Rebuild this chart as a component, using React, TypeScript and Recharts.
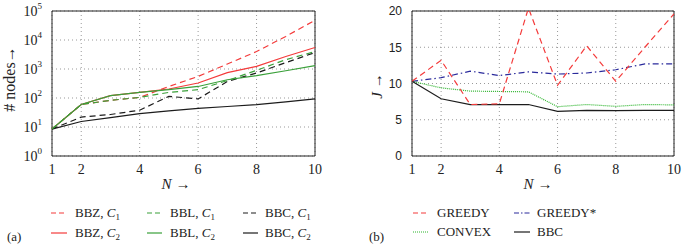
import React from 'react';
import { LineChart, Line, XAxis, YAxis, CartesianGrid, ReferenceArea } from 'recharts';

// N = number of items
const nValues = [1, 2, 3, 4, 5, 6, 7, 8, 9, 10];
const xTicks = [1, 2, 4, 6, 8, 10];

// (a) # nodes, log scale
const bbzC1 = [8.5, 60, 83, 105, 250, 555, 1480, 4000, 13300, 48000];
const bblC1 = [8.5, 60, 83, 105, 156, 194, 400, 900, 2100, 4000];
const bbcC1 = [8.5, 22, 27, 38, 114, 93, 370, 730, 1660, 3700];
const bbzC2 = [8.5, 60, 120, 156, 204, 330, 750, 1230, 2700, 5500];
const bblC2 = [8.5, 60, 120, 156, 194, 250, 427, 590, 870, 1300];
const bbcC2 = [8.5, 15.5, 21, 29, 36, 44, 51, 59, 73, 93];
const logTicks = [1, 10, 100, 1000, 10000, 100000];

// (b) cost J
const greedy = [10.3, 13.2, 7.1, 7.2, 20.4, 9.75, 15.2, 10.3, 15.0, 19.6];
const greedyStar = [10.3, 10.8, 11.7, 11.1, 11.6, 11.3, 11.45, 11.9, 12.7, 12.7];
const convex = [10.3, 9.4, 8.95, 8.9, 8.85, 6.8, 7.1, 6.85, 7.1, 7.05];
const bbc = [10.3, 7.9, 7.1, 7.1, 7.1, 6.15, 6.3, 6.25, 6.3, 6.3];
const jTicks = [0, 5, 10, 15, 20];

const leftRows = nValues.map((n, i) => ({
  n,
  bbzC1: bbzC1[i],
  bblC1: bblC1[i],
  bbcC1: bbcC1[i],
  bbzC2: bbzC2[i],
  bblC2: bblC2[i],
  bbcC2: bbcC2[i],
}));

const rightRows = nValues.map((n, i) => ({
  n,
  greedy: greedy[i],
  greedyStar: greedyStar[i],
  convex: convex[i],
  bbc: bbc[i],
}));

const RED = '#f43b3b';
const GREEN = '#3aa03a';
const DOTGREEN = '#2fb52f';
const BLUE = '#2b2b9c';
const BLACK = '#1c1c1c';
const SERIF = "'Liberation Serif', 'Times New Roman', serif";
const SANS = "'Liberation Sans', Arial, sans-serif";

const PowTick = ({ x, y, payload }: any) => {
  const exp = Math.round(Math.log10(payload.value));
  return (
    <text x={x} y={y} dy={5} textAnchor="end" style={{ fontFamily: SERIF, fontSize: 14 }} fill="#222">
      10<tspan dy={-7} style={{ fontSize: 9 }}>{exp}</tspan>
    </text>
  );
};

const Sub = ({ c, s }: { c: string; s: string }) => (
  <>
    <tspan fontStyle="italic">{c}</tspan>
    <tspan dy={3} style={{ fontSize: 9 }}>{s}</tspan>
  </>
);

const grid = <CartesianGrid stroke="#999" strokeDasharray="1 3" />;

const App = () => {
  return (
    <div style={{ position: 'absolute', left: 0, top: 0, width: 689, height: 244, background: '#fff' }}>
      <div style={{ position: 'absolute', left: 0, top: 0 }}>
        <LineChart width={345} height={190} data={leftRows} margin={{ top: 11, right: 30, left: 12, bottom: 14 }}>
          {grid}
          <XAxis dataKey="n" type="number" domain={[1, 10]} ticks={xTicks} height={20}
            tick={{ style: { fontFamily: SERIF, fontSize: 14 }, fill: '#222' }} tickLine={false} axisLine={false} tickMargin={2} />
          <YAxis type="number" scale="log" domain={[1, 100000]} ticks={logTicks} width={40} allowDataOverflow
            tick={<PowTick />} tickLine={false} axisLine={false} tickMargin={4} />
          <ReferenceArea x1={1} x2={10} y1={1} y2={100000} fill="none" stroke="#222" strokeWidth={1} />
          <Line dataKey="bbzC2" stroke={RED} strokeWidth={1.2} dot={false} isAnimationActive={false} />
          <Line dataKey="bbzC1" stroke={RED} strokeWidth={1.2} strokeDasharray="6 4" dot={false} isAnimationActive={false} />
          <Line dataKey="bbcC1" stroke={BLACK} strokeWidth={1.2} strokeDasharray="6 4" dot={false} isAnimationActive={false} />
          <Line dataKey="bblC1" stroke={GREEN} strokeWidth={1.2} strokeDasharray="6 4" dot={false} isAnimationActive={false} />
          <Line dataKey="bbcC2" stroke={BLACK} strokeWidth={1.2} dot={false} isAnimationActive={false} />
          <Line dataKey="bblC2" stroke={GREEN} strokeWidth={1.2} dot={false} isAnimationActive={false} />
        </LineChart>
      </div>
      <div style={{ position: 'absolute', left: 345, top: 0 }}>
        <LineChart width={344} height={190} data={rightRows} margin={{ top: 11, right: 15, left: 27, bottom: 14 }}>
          {grid}
          <XAxis dataKey="n" type="number" domain={[1, 10]} ticks={xTicks} height={20}
            tick={{ style: { fontFamily: SERIF, fontSize: 14 }, fill: '#222' }} tickLine={false} axisLine={false} tickMargin={2} />
          <YAxis type="number" domain={[0, 20]} ticks={jTicks} width={40} allowDataOverflow
            tick={{ style: { fontFamily: SANS, fontSize: 12 }, fill: '#222' }} tickLine={false} axisLine={false} tickMargin={4} />
          <ReferenceArea x1={1} x2={10} y1={0} y2={20} fill="none" stroke="#222" strokeWidth={1} />
          <Line dataKey="greedyStar" stroke={BLUE} strokeWidth={1.2} strokeDasharray="6 3 1.5 3" dot={false} isAnimationActive={false} />
          <Line dataKey="convex" stroke={DOTGREEN} strokeWidth={1.2} strokeDasharray="1 1" dot={false} isAnimationActive={false} />
          <Line dataKey="bbc" stroke={BLACK} strokeWidth={1.2} dot={false} isAnimationActive={false} />
          <Line dataKey="greedy" stroke={RED} strokeWidth={1.2} strokeDasharray="6 4" dot={false} isAnimationActive={false} />
        </LineChart>
      </div>
      <svg width={689} height={244} style={{ position: 'absolute', left: 0, top: 0, pointerEvents: 'none', fontFamily: SERIF, fontSize: 13 }}
        fill="#222">
        {/* axis labels */}
        <text x={176} y={189} textAnchor="middle" style={{ fontSize: 15 }}><tspan fontStyle="italic">N</tspan> →</text>
        <text x={538} y={189} textAnchor="middle" style={{ fontSize: 15 }}><tspan fontStyle="italic">N</tspan> →</text>
        <text transform="translate(15,79) rotate(-90)" textAnchor="middle" style={{ fontSize: 16 }}># nodes→</text>
        <text transform="translate(382,86) rotate(-90)" textAnchor="middle" style={{ fontSize: 15 }}><tspan fontStyle="italic">J</tspan> →</text>

        {/* legend (a) */}
        <line x1={51} x2={67} y1={213} y2={213} stroke={RED} strokeWidth={1.2} strokeDasharray="5 3" />
        <text x={75} y={217}>BBZ, <Sub c="C" s="1" /></text>
        <line x1={147} x2={162} y1={213} y2={213} stroke={GREEN} strokeWidth={1.2} strokeDasharray="5 3" />
        <text x={170} y={217}>BBL, <Sub c="C" s="1" /></text>
        <line x1={243} x2={258} y1={213} y2={213} stroke={BLACK} strokeWidth={1.2} strokeDasharray="5 3" />
        <text x={265} y={217}>BBC, <Sub c="C" s="1" /></text>
        <line x1={51} x2={67} y1={233} y2={233} stroke={RED} strokeWidth={1.2} />
        <text x={75} y={237}>BBZ, <Sub c="C" s="2" /></text>
        <line x1={147} x2={162} y1={233} y2={233} stroke={GREEN} strokeWidth={1.2} />
        <text x={170} y={237}>BBL, <Sub c="C" s="2" /></text>
        <line x1={243} x2={258} y1={233} y2={233} stroke={BLACK} strokeWidth={1.2} />
        <text x={265} y={237}>BBC, <Sub c="C" s="2" /></text>
        <text x={7} y={241}>(a)</text>

        {/* legend (b) */}
        <line x1={413} x2={428} y1={213} y2={213} stroke={RED} strokeWidth={1.2} strokeDasharray="5 3" />
        <text x={437} y={217}>GREEDY</text>
        <line x1={514} x2={530} y1={213} y2={213} stroke={BLUE} strokeWidth={1.2} strokeDasharray="5 2 1.5 2" />
        <text x={537} y={217}>GREEDY*</text>
        <line x1={413} x2={428} y1={232} y2={232} stroke={DOTGREEN} strokeWidth={1.2} strokeDasharray="1 1" />
        <text x={437} y={236}>CONVEX</text>
        <line x1={514} x2={530} y1={232} y2={232} stroke={BLACK} strokeWidth={1.2} />
        <text x={537} y={236}>BBC</text>
        <text x={369} y={241}>(b)</text>
      </svg>
    </div>
  );
};

export default App;
